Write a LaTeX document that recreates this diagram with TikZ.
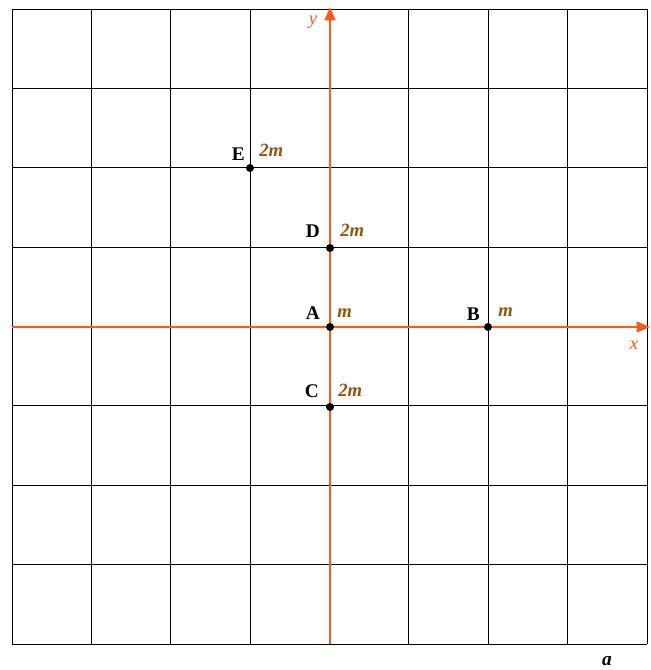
\documentclass[tikz,border=0pt]{standalone}
\usepackage{fontspec}
\setmainfont{Liberation Serif}
\usetikzlibrary{arrows.meta}
\definecolor{axisc}{RGB}{255,90,25}
\definecolor{massc}{RGB}{150,82,10}
\begin{document}
\begin{tikzpicture}[x=0.75pt,y=-0.75pt,
  gridline/.style={draw=black,line width=0.7pt},
  axisline/.style={draw=axisc,line width=1.6pt,-{Triangle[length=10pt,width=8pt]}},
  ptlabel/.style={font=\fontsize{14.5}{16}\selectfont\bfseries,anchor=base east,inner sep=0pt},
  masslabel/.style={font=\fontsize{14}{16}\selectfont\bfseries\itshape,text=massc,anchor=base west,inner sep=0pt},
  axlabel/.style={font=\fontsize{14}{16}\selectfont\itshape,text=axisc,inner sep=0pt},
  dot/.style={circle,fill=black,inner sep=0pt,minimum size=6pt}]
\useasboundingbox (0,0) rectangle (650,670);
\foreach \i in {0,...,8} {
  \draw[gridline] ({12+\i*79.375},9) -- ({12+\i*79.375},644);
  \draw[gridline] (12,{9+\i*79.375}) -- (647,{9+\i*79.375});
}
\coordinate (xs) at (12,327);
\coordinate (xe) at (650,327);
\coordinate (ys) at (330,644);
\coordinate (ye) at (330,7);
\draw[axisline] (xs) -- (xe);
\draw[axisline] (ys) -- (ye);
\node[axlabel] (ylab) at (313,22) {y};
\node[axlabel] (xlab) at (634,345) {x};
% points
\node[dot] (A) at (330,327) {};
\node[dot] (B) at (488,327) {};
\node[dot] (C) at (330,407) {};
\node[dot] (D) at (330,248) {};
\node[dot] (E) at (250,168) {};
\node[ptlabel] (Al) at (320,319) {A};
\node[ptlabel] (Bl) at (480,320) {B};
\node[ptlabel] (Cl) at (319,397) {C};
\node[ptlabel] (Dl) at (320,238) {D};
\node[ptlabel] (El) at (245,161) {E};
\node[masslabel] (Am) at (337,317) {m};
\node[masslabel] (Bm) at (498,316) {m};
\node[masslabel] (Cm) at (338,396) {2m};
\node[masslabel] (Dm) at (340,236) {2m};
\node[masslabel] (Em) at (259,157) {2m};
\node[font=\fontsize{14.5}{16}\selectfont\bfseries\itshape,inner sep=0pt] (alab) at (607,661) {a};
\end{tikzpicture}
\end{document}
